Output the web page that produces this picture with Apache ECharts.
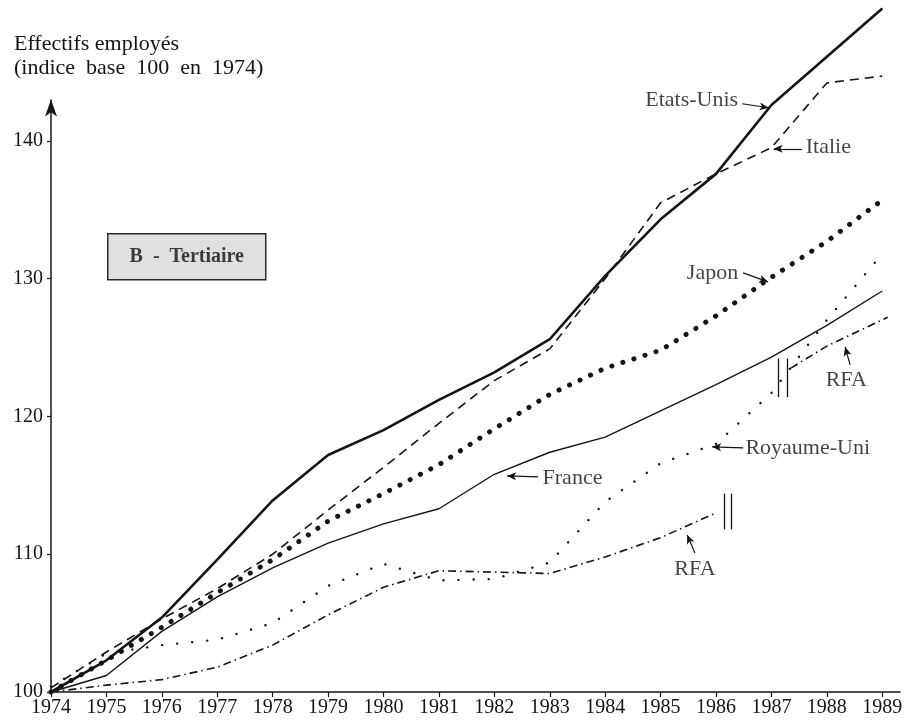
<!DOCTYPE html>
<html><head><meta charset="utf-8">
<script src="https://cdn.jsdelivr.net/npm/echarts@6/dist/echarts.min.js"></script>
<style>html,body{margin:0;padding:0;background:#fff}#c{width:907px;height:724px}</style>
</head><body><div id="c"></div>
<script>
// ---- data ----
const years = [1974,1975,1976,1977,1978,1979,1980,1981,1982,1983,1984,1985,1986,1987,1988,1989];
const etatsUnis   = [100.0,102.3,105.4,109.6,113.9,117.2,119.0,121.2,123.2,125.6,130.2,134.3,137.6,142.6,146.1,149.6];
const italie      = [100.3,102.9,105.3,107.5,110.0,113.2,116.3,119.5,122.6,124.9,130.0,135.5,137.6,139.5,144.2,144.7];
const japon       = [100.0,102.3,104.7,107.2,109.6,112.4,114.4,116.5,119.1,121.6,123.5,124.8,127.3,130.1,132.7,135.7];
const france      = [100.0,101.2,104.4,106.9,109.0,110.8,112.2,113.3,115.8,117.4,118.5,120.4,122.3,124.3,126.6,129.1];
const royaumeUni  = [100.4,102.8,103.4,103.8,105.0,107.7,109.3,108.1,108.2,109.4,113.8,116.6,118.0,121.7,127.0,131.8];
const rfaYears    = [1974,1975,1976,1977,1978,1979,1980,1981,1982,1983,1984,1985,1986];
const rfa         = [100.0,100.5,100.9,101.8,103.4,105.6,107.6,108.8,108.7,108.6,109.8,111.2,113.0];
const rfaNewYears = [1987.35,1988,1989.1];
const rfaNew      = [123.5,125.1,127.2];
const yTicks = [100,110,120,130,140];
const yAxisTop = 143;
// series-break marks "||" : [year, low, high]
const breakMarks = [[1986.14,111.8,114.4],[1986.27,111.8,114.4],[1987.13,121.4,124.2],[1987.28,121.4,124.2]];
// annotations: label text, anchor, alignment, arrow from -> to
const labels = [
  {text:'Etats-Unis',  at:[1986.40,142.98], align:'right'},
  {text:'Italie',      at:[1987.62,139.50], align:'left'},
  {text:'Japon',       at:[1986.40,130.42], align:'right'},
  {text:'RFA',         at:[1988.35,122.65], align:'center'},
  {text:'Royaume-Uni', at:[1986.53,117.71], align:'left'},
  {text:'France',      at:[1982.87,115.54], align:'left'},
  {text:'RFA',         at:[1985.62,108.93], align:'center'}
];
const arrows = [
  [[1986.47,142.69],[1986.95,142.40]],
  [[1987.55,139.42],[1987.04,139.42]],
  [[1986.49,130.42],[1986.94,129.76]],
  [[1988.42,123.74],[1988.33,125.04]],
  [[1986.49,117.71],[1985.93,117.79]],
  [[1982.79,115.61],[1982.23,115.68]],
  [[1985.62,110.09],[1985.48,111.40]]
];
const axisTitle = 'Effectifs employés\n(indice  base  100  en  1974)';
const panelTitle = 'B  -  Tertiaire';

// ---- chart ----
const FONT = "'Liberation Serif','DejaVu Serif',serif";
const INK = '#141414';
const pairs = (xs, ys) => xs.map((x,i)=>[x, ys[i]]);
const chart = echarts.init(document.getElementById('c'), null, {renderer:'canvas'});

function lineSeries(name, xs, ys, style){
  return {name, type:'line', data:pairs(xs,ys), showSymbol:false, symbol:'none', smooth:false,
          lineStyle:Object.assign({color:INK}, style), silent:true, z:3, clip:false, animation:false};
}

const option = {
  animation:false,
  backgroundColor:'#ffffff',
  title:{text:axisTitle, left:14, top:32, padding:0,
         textStyle:{fontFamily:FONT, fontSize:22, fontWeight:'normal', lineHeight:24, color:INK}},
  grid:{left:51, right:7, top:3, bottom:32},
  xAxis:{type:'value', min:1974, max:1989.32, interval:1,
         axisLine:{show:true, onZero:false, lineStyle:{color:INK, width:1.5}},
         axisTick:{show:true, inside:false, length:5, customValues:years, lineStyle:{color:INK, width:1.2}},
         axisLabel:{customValues:years, formatter:v=>String(v), margin:6,
                    fontFamily:FONT, fontSize:20, color:INK},
         splitLine:{show:false}},
  yAxis:{type:'value', min:100, max:150, interval:10,
         axisLine:{show:false},
         axisTick:{show:true, length:4, customValues:yTicks, lineStyle:{color:INK, width:1.2}},
         axisLabel:{customValues:yTicks, formatter:v=>String(v), margin:8,
                    fontFamily:FONT, fontSize:20, color:INK},
         splitLine:{show:false}},
  graphic:[{
    type:'group', left:107, top:233,
    children:[
      {type:'rect', shape:{x:0,y:0,width:158,height:46},
       style:{fill:'#e0e0e0', stroke:'#2a2a2a', lineWidth:1.5}},
      {type:'text', x:79, y:23,
       style:{text:panelTitle, font:"bold 20px 'Liberation Serif', serif", fill:'#3a3a3a',
              textAlign:'center', textVerticalAlign:'middle'}}
    ]
  }],
  series:[
    lineSeries('Etats-Unis', years, etatsUnis, {width:2.6, type:'solid'}),
    lineSeries('Italie', years, italie, {width:1.6, type:[9,6]}),
    lineSeries('Japon', years, japon, {width:5, type:[0.1,11.5], cap:'round'}),
    lineSeries('France', years, france, {width:1.4, type:'solid'}),
    lineSeries('Royaume-Uni', years, royaumeUni, {width:2.4, type:[0.1,15], cap:'round'}),
    lineSeries('RFA', rfaYears, rfa, {width:1.6, type:[8,4,1.5,4]}),
    lineSeries('RFA (nouvelle série)', rfaNewYears, rfaNew, {width:1.6, type:[8,4,1.5,4]}),
    { // annotations: axis arrow, label arrows, break marks
      name:'annotations', type:'line', data:[], silent:true, animation:false,
      markLine:{silent:true, animation:false, symbol:['none','arrow'], symbolSize:[6,9],
        label:{show:false},
        lineStyle:{color:INK, width:1.2, type:'solid'},
        data:[
          [{coord:[years[0], yTicks[0]], symbol:'none'},
           {coord:[years[0], yAxisTop], symbol:'arrow', symbolSize:[9,17], lineStyle:{width:1.5, color:INK}}],
          ...arrows.map(a=>[{coord:a[0]},{coord:a[1]}]),
          ...breakMarks.map(b=>[{coord:[b[0],b[1]], symbol:'none'},{coord:[b[0],b[2]], symbol:'none', lineStyle:{width:1.3, color:INK}}])
        ]}
    },
    { name:'labels', type:'scatter', symbolSize:0, silent:true, animation:false, z:5,
      data:labels.map(l=>({value:l.at, label:{show:true, formatter:l.text, position:[0,0],
                            align:l.align, verticalAlign:'middle', fontFamily:FONT, fontSize:22, color:INK}})) }
  ]
};
chart.setOption(option);
</script>
</body></html>
